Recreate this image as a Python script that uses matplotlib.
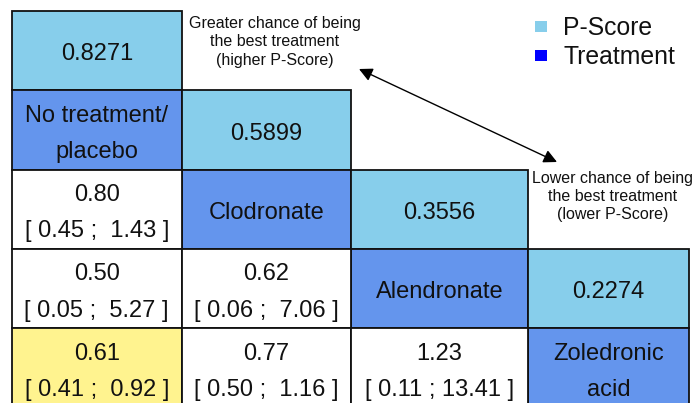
import matplotlib
matplotlib.use("Agg")
import matplotlib.pyplot as plt
from matplotlib.patches import Rectangle

plt.rcParams['font.family'] = ['Liberation Sans', 'DejaVu Sans']

# league table data
treatments = ["No treatment/\nplacebo", "Clodronate", "Alendronate", "Zoledronic\nacid"]
pscores = [0.8271, 0.5899, 0.3556, 0.2274]
# comparisons (row treatment, column treatment): estimate, lower, upper
comp_row = [1, 2, 3, 2, 3, 3]
comp_col = [0, 0, 0, 1, 1, 2]
comp_est = [0.80, 0.50, 0.61, 0.62, 0.77, 1.23]
comp_lo = [0.45, 0.05, 0.41, 0.06, 0.50, 0.11]
comp_hi = [1.43, 5.27, 0.92, 7.06, 1.16, 13.41]
comp_signif = [False, False, True, False, False, False]

legend_labels = ["P-Score", "Treatment"]
note_high = "Greater chance of being\nthe best treatment\n(higher P-Score)"
note_low = "Lower chance of being\nthe best treatment\n(lower P-Score)"

# colours
c_pscore = "#87ceeb"
c_treat = "#6495ed"
c_signif = "#fff38f"
c_legend = ["#87ceeb", "#0000ff"]

# grid layout in pixels
col_edges = [12, 181.5, 351, 528, 689]
row_edges = [11, 90, 169.5, 249, 328, 407.5]

fig = plt.figure(figsize=(6.95, 4.03), dpi=100)
ax = fig.add_axes([0, 0, 1, 1])
ax.set_xlim(0, 695)
ax.set_ylim(403, 0)
ax.axis('off')


def lines_text(x, y, s, size, step, base):
    # place each line on its own baseline so spacing matches the original
    parts = s.split("\n")
    n = len(parts)
    for k, p in enumerate(parts):
        ax.text(x, y + base + (k - (n - 1) / 2) * step, p, ha='center', va='baseline',
                fontsize=size, color='#111111')


def cell(r, c, color, label):
    x0, x1 = col_edges[c], col_edges[c + 1]
    y0, y1 = row_edges[r], row_edges[r + 1]
    ax.add_patch(Rectangle((x0, y0), x1 - x0, y1 - y0, facecolor=color,
                           edgecolor='#111111', lw=1.3, zorder=1))
    lines_text((x0 + x1) / 2, (y0 + y1) / 2, label, 17, 36, 10)


for k, name in enumerate(treatments):
    cell(k, k, c_pscore, f"{pscores[k]:.4f}")
    cell(k + 1, k, c_treat, name)

for r, c, e, lo, hi, sig in zip(comp_row, comp_col, comp_est, comp_lo, comp_hi, comp_signif):
    label = f"{e:.2f}\n[{lo:5.2f} ; {hi:5.2f} ]"
    cell(r + 1, c, c_signif if sig else "white", label)

# annotations
lines_text(275, 41.5, note_high, 11.5, 18.5, 5)
lines_text(613, 196, note_low, 11.5, 18, 5)
ax.annotate("", xy=(359, 69), xytext=(557, 162),
            arrowprops=dict(arrowstyle='<|-|>', color='black', lw=1,
                            mutation_scale=20, shrinkA=0, shrinkB=0))

# legend
for k, (lab, col) in enumerate(zip(legend_labels, c_legend)):
    yc = 27 + k * 29
    ax.add_patch(Rectangle((535, yc - 6), 12, 11, facecolor=col, edgecolor='none'))
    ax.text(563, yc + 1, lab, ha='left', va='center', fontsize=17.8, color='#111111')

fig.savefig("out.png", dpi=100)
